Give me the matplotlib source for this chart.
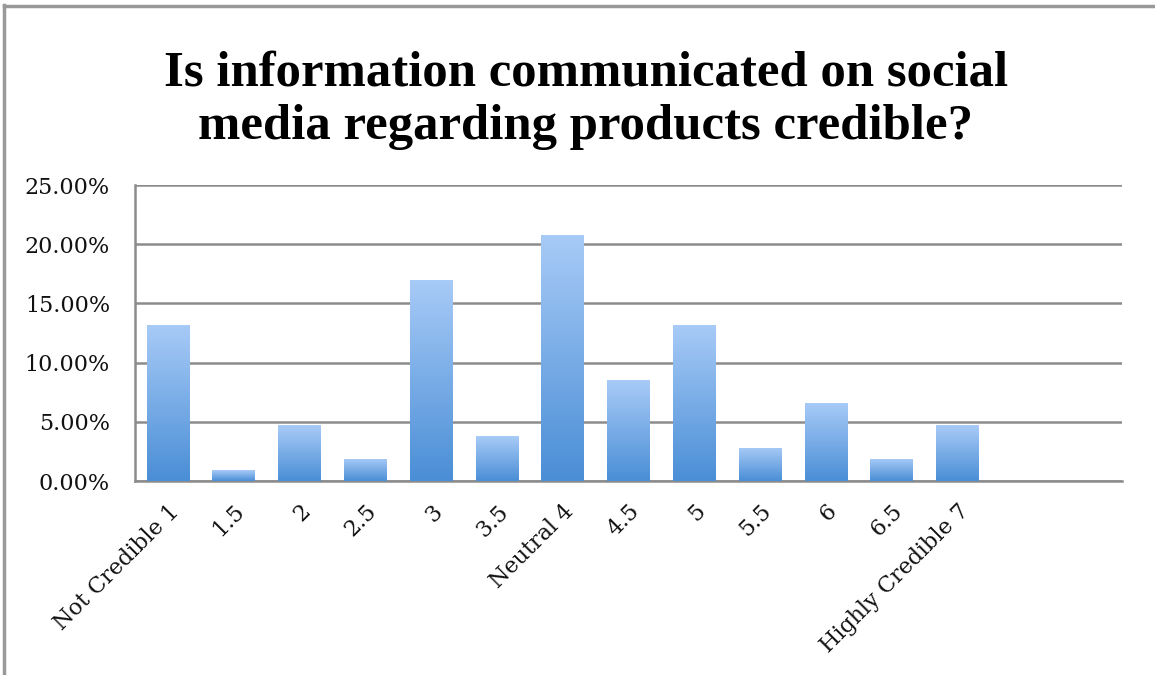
import numpy as np
import matplotlib.pyplot as plt
from matplotlib.lines import Line2D
from matplotlib.ticker import FuncFormatter
from matplotlib.colors import LinearSegmentedColormap

# Data

categories = ['Not Credible 1', '1.5', '2', '2.5', '3', '3.5', 'Neutral 4',
              '4.5', '5', '5.5', '6', '6.5', 'Highly Credible 7']
shares = [0.132, 0.009, 0.047, 0.019, 0.170, 0.038, 0.208,
          0.085, 0.132, 0.028, 0.066, 0.019, 0.047]
yticks = [0, 0.05, 0.10, 0.15, 0.20, 0.25]
title = 'Is information communicated on social\nmedia regarding products credible?'

plt.rcParams['font.family'] = ['DejaVu Serif']

W, H = 1155, 675
fig = plt.figure(figsize=(W / 100, H / 100), dpi=100)
ax = fig.add_axes([135 / W, 1 - 481 / H, (1122 - 135) / W, (481 - 185) / H])

x = np.arange(len(categories))
bars = ax.bar(x, shares, width=0.65, color='none', edgecolor='none', zorder=3)

# gradient fill, light at the top, darker at the bottom
grad = np.linspace(0, 1, 256).reshape(-1, 1)
cmap = LinearSegmentedColormap.from_list('bar', ['#4a8ed6', '#a8cbf7'])
for b in bars:
    x0, y0 = b.get_x(), b.get_y()
    im = ax.imshow(grad, cmap=cmap, origin='lower', aspect='auto',
                   extent=[x0, x0 + b.get_width(), y0, y0 + b.get_height()],
                   zorder=3)
    im.set_clip_path(b)

ax.set_xlim(-0.5, 14.5)
ax.set_ylim(0, 0.25)
ax.set_yticks(yticks)
ax.yaxis.set_major_formatter(FuncFormatter(lambda v, p: '%.2f%%' % (v * 100)))
ax.set_xticks(x)
ax.set_xticklabels(categories, rotation=45, ha='right', rotation_mode='anchor')
ax.tick_params(axis='both', length=0, labelsize=16, colors='#111111')
ax.tick_params(axis='x', pad=14)
ax.tick_params(axis='y', pad=18)

ax.grid(axis='y', color='#8c8c8c', linewidth=1.8, zorder=0)
ax.set_axisbelow(True)
for s in ['top', 'right']:
    ax.spines[s].set_visible(False)
for s in ['left', 'bottom']:
    ax.spines[s].set_color('#8c8c8c')
    ax.spines[s].set_linewidth(1.8)

fig.text(0.507, 1 - 100 / H, title, ha='center', va='center', fontsize=36.5,
         fontweight='bold', linespacing=1.22, family='Liberation Serif')

# frame around the chart
fig.add_artist(Line2D([4 / W, 4 / W], [0, 1 - 5 / H], transform=fig.transFigure,
                      color='#999999', linewidth=2.5))
fig.add_artist(Line2D([4 / W, 1], [1 - 6 / H, 1 - 6 / H], transform=fig.transFigure,
                      color='#999999', linewidth=2.5))

fig.savefig('out.png', dpi=100)
